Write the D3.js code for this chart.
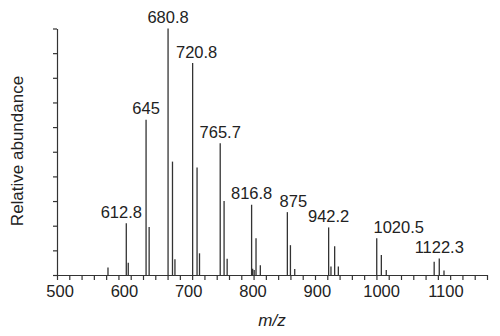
<!DOCTYPE html>
<html>
<head>
<meta charset="utf-8">
<script src="https://cdn.jsdelivr.net/npm/d3@7"></script>
<style>
  body { margin: 0; background: #fff; }
  svg { display: block; }
  text { font-family: "Liberation Sans", Arial, Helvetica, sans-serif; fill: #222; }
</style>
</head>
<body>
<svg id="chart" width="500" height="336"></svg>
<script>
// peaks (m/z) and their relative abundance (%)
const mzValues = [583, 612.8, 616, 645, 650, 680.8, 688, 692, 720.8, 728, 732,
  765.7, 772, 777, 816.8, 818.5, 821, 824, 831, 875, 880, 887,
  942.2, 946, 952, 958, 1020.5, 1028, 1036, 1114, 1122.3, 1130]
const abundance = [3, 21, 5, 63, 19.5, 100, 46, 6.4, 86, 43.6, 8.8,
  53.4, 30, 6.6, 28.5, 2.5, 2, 14.9, 4, 25.5, 12.1, 2.4,
  19.3, 3.4, 11.7, 3.4, 14.9, 8.1, 2, 5.4, 6.7, 1.8]

// peaks that carry a label
const labelledPeaks = [612.8, 645, 680.8, 720.8, 765.7, 816.8, 875, 942.2, 1020.5, 1122.3]

// x tick labels
const xTickLabels = [500, 600, 700, 800, 900, 1000, 1100]

const svg = d3.select('#chart')
const ink = '#333'

const x = d3.scaleLinear().domain([500, 1200]).range([57, 487])
const y = d3.scaleLinear().domain([0, 100]).range([275, 28.5])

// the printed labels sit a little off the ticks in the original figure
const labelX = d3.scaleLinear().domain([500, 1100]).range([59.6, 445.4])

// small nudges so the peak labels sit where the original put them
const labelNudge = { 612.8: -5, 720.8: 4, 875: 6, 1020.5: 22 }

//peaks
svg.append('g')
  .selectAll('line')
  .data(mzValues)
  .join('line')
  .attr('x1', d => x(d))
  .attr('x2', d => x(d))
  .attr('y1', y(0))
  .attr('y2', (d, i) => y(abundance[i]))
  .attr('stroke', ink)
  .attr('stroke-width', 1.3)

//peak labels
svg.append('g')
  .selectAll('text')
  .data(labelledPeaks)
  .join('text')
  .attr('x', d => x(d) + (labelNudge[d] || 0))
  .attr('y', d => y(abundance[mzValues.indexOf(d)]) - 5.5)
  .attr('text-anchor', 'middle')
  .attr('font-size', '16.5px')
  .text(d => String(d))

//x axis ticks
const xAxis = d3.axisBottom(x)
  .tickValues(d3.range(500, 1201, 20))
  .tickSize(5)
  .tickSizeOuter(0)
  .tickFormat('')

svg.append('g')
  .attr('transform', `translate(0, ${y(0)})`)
  .call(xAxis)
  .call(g => g.selectAll('line, path').attr('stroke', ink).attr('stroke-width', 1.2))

//x axis labels
const xLabelAxis = d3.axisBottom(labelX)
  .tickValues(xTickLabels)
  .tickFormat(d3.format('d'))
  .tickSize(0)
  .tickPadding(10)

svg.append('g')
  .attr('transform', `translate(0, ${y(0)})`)
  .call(xLabelAxis)
  .call(g => g.select('.domain').remove())
  .call(g => g.selectAll('text')
    .attr('font-family', '"Liberation Sans", Arial, sans-serif')
    .attr('font-size', '16.5px')
    .attr('fill', '#222'))

//y axis
const yAxis = d3.axisLeft(y)
  .tickValues(d3.range(0, 101, 10))
  .tickSize(4)
  .tickSizeOuter(0)
  .tickFormat('')

svg.append('g')
  .attr('transform', 'translate(57, 0)')
  .call(yAxis)
  .call(g => g.selectAll('line, path').attr('stroke', ink).attr('stroke-width', 1.2))

//axis titles
svg.append('text')
  .text('Relative abundance')
  .attr('transform', 'translate(23, 151) rotate(-90)')
  .attr('text-anchor', 'middle')
  .attr('font-size', '17px')

svg.append('text')
  .text('m/z')
  .attr('x', 272)
  .attr('y', 326)
  .attr('text-anchor', 'middle')
  .attr('font-size', '17px')
  .attr('font-style', 'italic')
</script>
</body>
</html>
